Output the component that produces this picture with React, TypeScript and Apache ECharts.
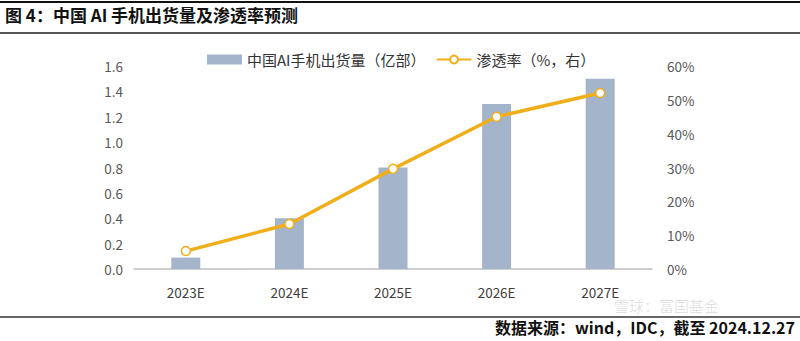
import React, { useEffect, useRef } from "react";
import * as echarts from "echarts";

const categories = ["2023E", "2024E", "2025E", "2026E", "2027E"];
const shipments = [0.09, 0.4, 0.8, 1.3, 1.5];
const penetration = [5.3, 13.3, 29.6, 45, 52];
const titleText = "图 4：中国 AI 手机出货量及渗透率预测";
const sourceText = "数据来源：wind，IDC，截至 2024.12.27";
const barName = "中国AI手机出货量（亿部）";
const lineName = "渗透率（%，右）";

export default function App() {
  const ref = useRef<HTMLDivElement>(null);
  useEffect(() => {
    if (!ref.current) return;
    const chart = echarts.init(ref.current, null, { renderer: "svg" });
    const font = '"Noto Sans CJK SC", "Noto Sans", sans-serif';
    chart.setOption({
      animation: false,
      backgroundColor: "#ffffff",
      textStyle: { fontFamily: font },
      graphic: [
        { type: "line", shape: { x1: 0, y1: 2, x2: 800, y2: 2 }, style: { stroke: "#111", lineWidth: 2 } },
        { type: "line", shape: { x1: 0, y1: 33, x2: 800, y2: 33 }, style: { stroke: "#555", lineWidth: 2 } },
        { type: "line", shape: { x1: 0, y1: 317, x2: 800, y2: 317 }, style: { stroke: "#666", lineWidth: 2 } },
        {
          type: "text", left: 5, top: 6,
          style: { text: titleText, fontSize: 17, fontWeight: "bold", fill: "#111", fontFamily: font },
        },
        {
          type: "text", right: 5, top: 319,
          style: { text: sourceText, fontSize: 16, fontWeight: "bold", fill: "#111", fontFamily: font },
        },
        {
          type: "text", left: 614, top: 297, z: 0,
          style: { text: "雪球：富国基金", fontSize: 15, lineHeight: 17, fill: "rgba(0,0,0,0.12)", fontFamily: font },
        },
      ],
      legend: {
        top: 47,
        left: 202,
        itemGap: 10,
        itemWidth: 35,
        itemHeight: 10,
        textStyle: { fontSize: 15, color: "#333", fontFamily: font },
        data: [
          { name: barName, icon: "rect" },
          { name: lineName },
        ],
      },
      grid: { left: 134, right: 148, top: 66, bottom: 72 },
      xAxis: {
        type: "category",
        data: categories,
        axisLine: { lineStyle: { color: "#BFBFBF", width: 1.5 } },
        axisTick: { show: false },
        axisLabel: { fontSize: 13.5, color: "#404040", margin: 16, fontFamily: font },
      },
      yAxis: [
        {
          type: "value", min: 0, max: 1.6, interval: 0.2,
          splitLine: { show: false },
          axisLine: { show: false },
          axisTick: { show: false },
          axisLabel: {
            fontSize: 13.5, color: "#595959", margin: 11, fontFamily: font,
            formatter: (v: number) => v.toFixed(1),
          },
        },
        {
          type: "value", min: 0, max: 60, interval: 10,
          splitLine: { show: false },
          axisLine: { show: false },
          axisTick: { show: false },
          axisLabel: { fontSize: 13.5, color: "#595959", margin: 15, formatter: "{value}%", fontFamily: font },
        },
      ],
      series: [
        {
          name: barName,
          type: "bar",
          data: shipments,
          barWidth: 29,
          itemStyle: { color: "#A4B4CA" },
        },
        {
          name: lineName,
          type: "line",
          yAxisIndex: 1,
          data: penetration,
          symbol: "circle",
          symbolSize: 9,
          lineStyle: { color: "#F0AF1A", width: 3.5 },
          itemStyle: { color: "#ffffff", borderColor: "#F0AF1A", borderWidth: 1.5 },
        },
      ],
    });
    return () => chart.dispose();
  }, []);
  return <div ref={ref} style={{ width: 800, height: 341, position: "absolute", left: 0, top: 0 }} />;
}
